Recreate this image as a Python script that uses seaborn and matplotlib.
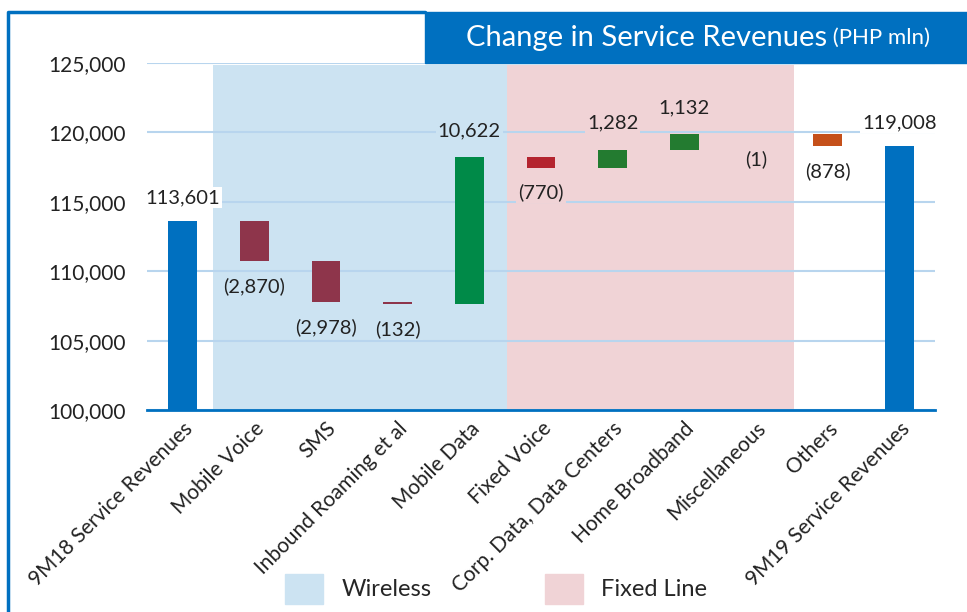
import numpy as np
import pandas as pd
import matplotlib.pyplot as plt
import matplotlib.patches as mpatches
from matplotlib.lines import Line2D
from matplotlib.text import Annotation
import seaborn as sns

# data
categories = ["9M18 Service Revenues", "Mobile Voice", "SMS", "Inbound Roaming et al",
              "Mobile Data", "Fixed Voice", "Corp. Data, Data Centers", "Home Broadband",
              "Miscellaneous", "Others", "9M19 Service Revenues"]
start_total = 113601
changes = [-2870, -2978, -132, 10622, -770, 1282, 1132, -1, -878]
end_total = 119008
bar_colors = ["#0070c0", "#8e354b", "#8e354b", "#8e354b", "#008a48", "#b4242f",
              "#237b30", "#237b30", "#b4242f", "#c5501a", "#0070c0"]
segment = ["none", "w", "w", "w", "w", "f", "f", "f", "f", "none", "none"]

BLUE = "#0070c0"
WIRELESS = "#cce3f2"
FIXED = "#f0d3d6"
bg_of = {"none": "white", "w": WIRELESS, "f": FIXED}

# waterfall geometry
cum = np.cumsum([start_total] + changes)
bottoms = [100000] + [min(cum[i], cum[i + 1]) for i in range(len(changes))] + [100000]
tops = [start_total] + [max(cum[i], cum[i + 1]) for i in range(len(changes))] + [end_total]
values = [start_total] + changes + [end_total]

df = pd.DataFrame({"category": categories, "top": tops, "bottom": bottoms})

sns.set_theme(style="white")
plt.rcParams["font.family"] = ["Lato", "DejaVu Sans"]

fig = plt.figure(figsize=(9.67, 6.12), dpi=100)
ax = fig.add_axes([0.152, 0.330, 0.815, 0.567])

# shaded groups
ax.axvspan(0.42, 4.53, ymin=0, ymax=0.994, color=WIRELESS, zorder=0.2, lw=0)
ax.axvspan(4.53, 8.53, ymin=0, ymax=0.994, color=FIXED, zorder=0.2, lw=0)

sns.barplot(data=df, x="category", y="top", hue="category", palette=bar_colors,
            legend=False, width=0.4, saturation=1, linewidth=0, ax=ax, zorder=2)

# turn bars into floating waterfall pieces
for i, cont in enumerate(ax.containers):
    for p in cont.patches:
        p.set_y(bottoms[i])
        p.set_height(tops[i] - bottoms[i])
        p.set_edgecolor("none")

ax.set_ylim(100000, 125000)
ax.set_xlim(-0.5, 10.5)
ax.set_yticks(np.arange(100000, 125001, 5000))
ax.yaxis.set_major_formatter(plt.FuncFormatter(lambda v, _: f"{int(v):,}"))
ax.set_axisbelow(True)
ax.yaxis.grid(True, color="#b8d5ee", lw=1.5)
ax.xaxis.grid(False)
ax.set_xlabel("")
ax.set_ylabel("")

for s in ["left", "right", "top"]:
    ax.spines[s].set_visible(False)
ax.spines["bottom"].set_color(BLUE)
ax.spines["bottom"].set_linewidth(2)
ax.tick_params(axis="y", length=0, pad=15, labelsize=15, labelcolor="#222222")
ax.tick_params(axis="x", length=0, pad=6, labelsize=15, labelcolor="#222222")
ax.set_xticks(range(len(categories)))
ax.set_xticklabels(categories, rotation=45, ha="right", rotation_mode="anchor")

# value labels
for i, v in enumerate(values):
    if i == 0 or i == len(values) - 1:
        txt, y, off = f"{v:,}", tops[i], 17
    elif v >= 0:
        txt, y, off = f"{v:,}", tops[i], 19
    else:
        txt, y, off = f"({-v:,})", bottoms[i], -18
    ax.annotate(txt, (i, y), xytext=(0, off), textcoords="offset points",
                ha="center", va="center", fontsize=14.5, color="#222222", zorder=3,
                bbox=dict(boxstyle="square,pad=0.1", fc=bg_of[segment[i]], ec="none"))

# title box
fig.patches.append(mpatches.Rectangle((425 / 967, 1 - 63 / 612), 1 - 425 / 967, 51 / 612,
                                      transform=fig.transFigure, color=BLUE, zorder=0))
t = fig.text(466 / 967, 1 - 38 / 612, "Change in Service Revenues", color="white",
             fontsize=21, ha="left", va="center", zorder=5)
fig.add_artist(Annotation(" (PHP mln)", xy=(1, 0.5), xycoords=t, ha="left", va="center",
                          color="white", fontsize=16, zorder=5))

# outer frame line
fig.lines.append(Line2D([8 / 967, 8 / 967, 425 / 967], [0, 1 - 12 / 612, 1 - 12 / 612],
                        transform=fig.transFigure, color=BLUE, lw=2.5))

# legend
handles = [mpatches.Patch(color=WIRELESS, label="Wireless"),
           mpatches.Patch(color=FIXED, label="Fixed Line")]
fig.legend(handles=handles, loc="center", bbox_to_anchor=(0.513, 0.038), ncol=2,
           frameon=False, fontsize=17, handlelength=1.6, handleheight=1.6,
           handletextpad=0.8, columnspacing=4.8)

fig.savefig("out.png", dpi=100)
